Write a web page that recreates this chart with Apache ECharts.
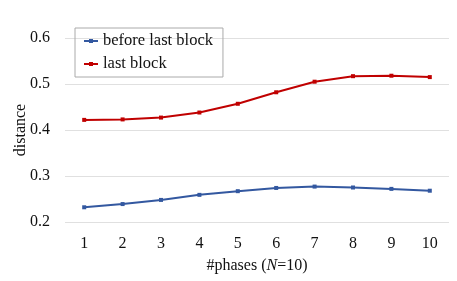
<!DOCTYPE html>
<html><head><meta charset="utf-8">
<script src="https://cdn.jsdelivr.net/npm/echarts@6/dist/echarts.min.js"></script>
<style>html,body{margin:0;padding:0;background:#fff}#c{width:457px;height:281px}</style>
</head><body><div id="c"></div>
<script>
const categories = ['1','2','3','4','5','6','7','8','9','10'];
const beforeLastBlock = [0.232, 0.239, 0.248, 0.259, 0.267, 0.274, 0.277, 0.275, 0.272, 0.268];
const lastBlock = [0.422, 0.423, 0.427, 0.438, 0.457, 0.482, 0.505, 0.517, 0.518, 0.515];
const seriesNames = ['before last block', 'last block'];
const font = 'Liberation Serif';
const legendIcon = 'path://M0,1.5 L14,1.5 L14,3.5 L0,3.5 Z M5,0.5 L9,0.5 L9,4.5 L5,4.5 Z';
const chart = echarts.init(document.getElementById('c'));
chart.setOption({
  animation: false,
  textStyle: {fontFamily: font},
  grid: {left: 65, right: 8, top: 38, bottom: 59},
  legend: {
    orient: 'vertical', left: 75, top: 28,
    borderColor: '#aaa', borderWidth: 1, padding: [4, 10, 4, 9],
    itemGap: 5, itemWidth: 14, itemHeight: 4,
    icon: legendIcon,
    textStyle: {fontFamily: font, fontSize: 16.5, color: '#111', lineHeight: 18},
    data: seriesNames
  },
  xAxis: {
    type: 'category', data: categories, boundaryGap: true,
    axisLine: {show: false}, axisTick: {show: false},
    axisLabel: {fontFamily: font, fontSize: 16, color: '#111', margin: 14},
    name: '#phases ({i|N}=10)', nameLocation: 'middle', nameGap: 36, nameMoveOverlap: false,
    nameTextStyle: {fontFamily: font, fontSize: 16, color: '#111',
      rich: {i: {fontFamily: font, fontSize: 16, fontStyle: 'italic', color: '#111'}}}
  },
  yAxis: {
    type: 'value', min: 0.2, max: 0.6, interval: 0.1,
    axisLine: {show: false}, axisTick: {show: false},
    splitLine: {lineStyle: {color: '#e0e0e0', width: 1}},
    axisLabel: {fontFamily: font, fontSize: 16, color: '#111', margin: 15, formatter: v => v.toFixed(1)},
    name: 'distance', nameLocation: 'middle', nameGap: 36, nameRotate: 90, nameMoveOverlap: false,
    nameTextStyle: {fontFamily: font, fontSize: 16, color: '#111'}
  },
  series: [
    {name: seriesNames[0], type: 'line', data: beforeLastBlock,
     symbol: 'rect', symbolSize: 4, showAllSymbol: true,
     itemStyle: {color: '#3358a0'}, lineStyle: {color: '#3358a0', width: 2}},
    {name: seriesNames[1], type: 'line', data: lastBlock,
     symbol: 'rect', symbolSize: 4, showAllSymbol: true,
     itemStyle: {color: '#c00000'}, lineStyle: {color: '#c00000', width: 2}}
  ]
});
</script></body></html>
